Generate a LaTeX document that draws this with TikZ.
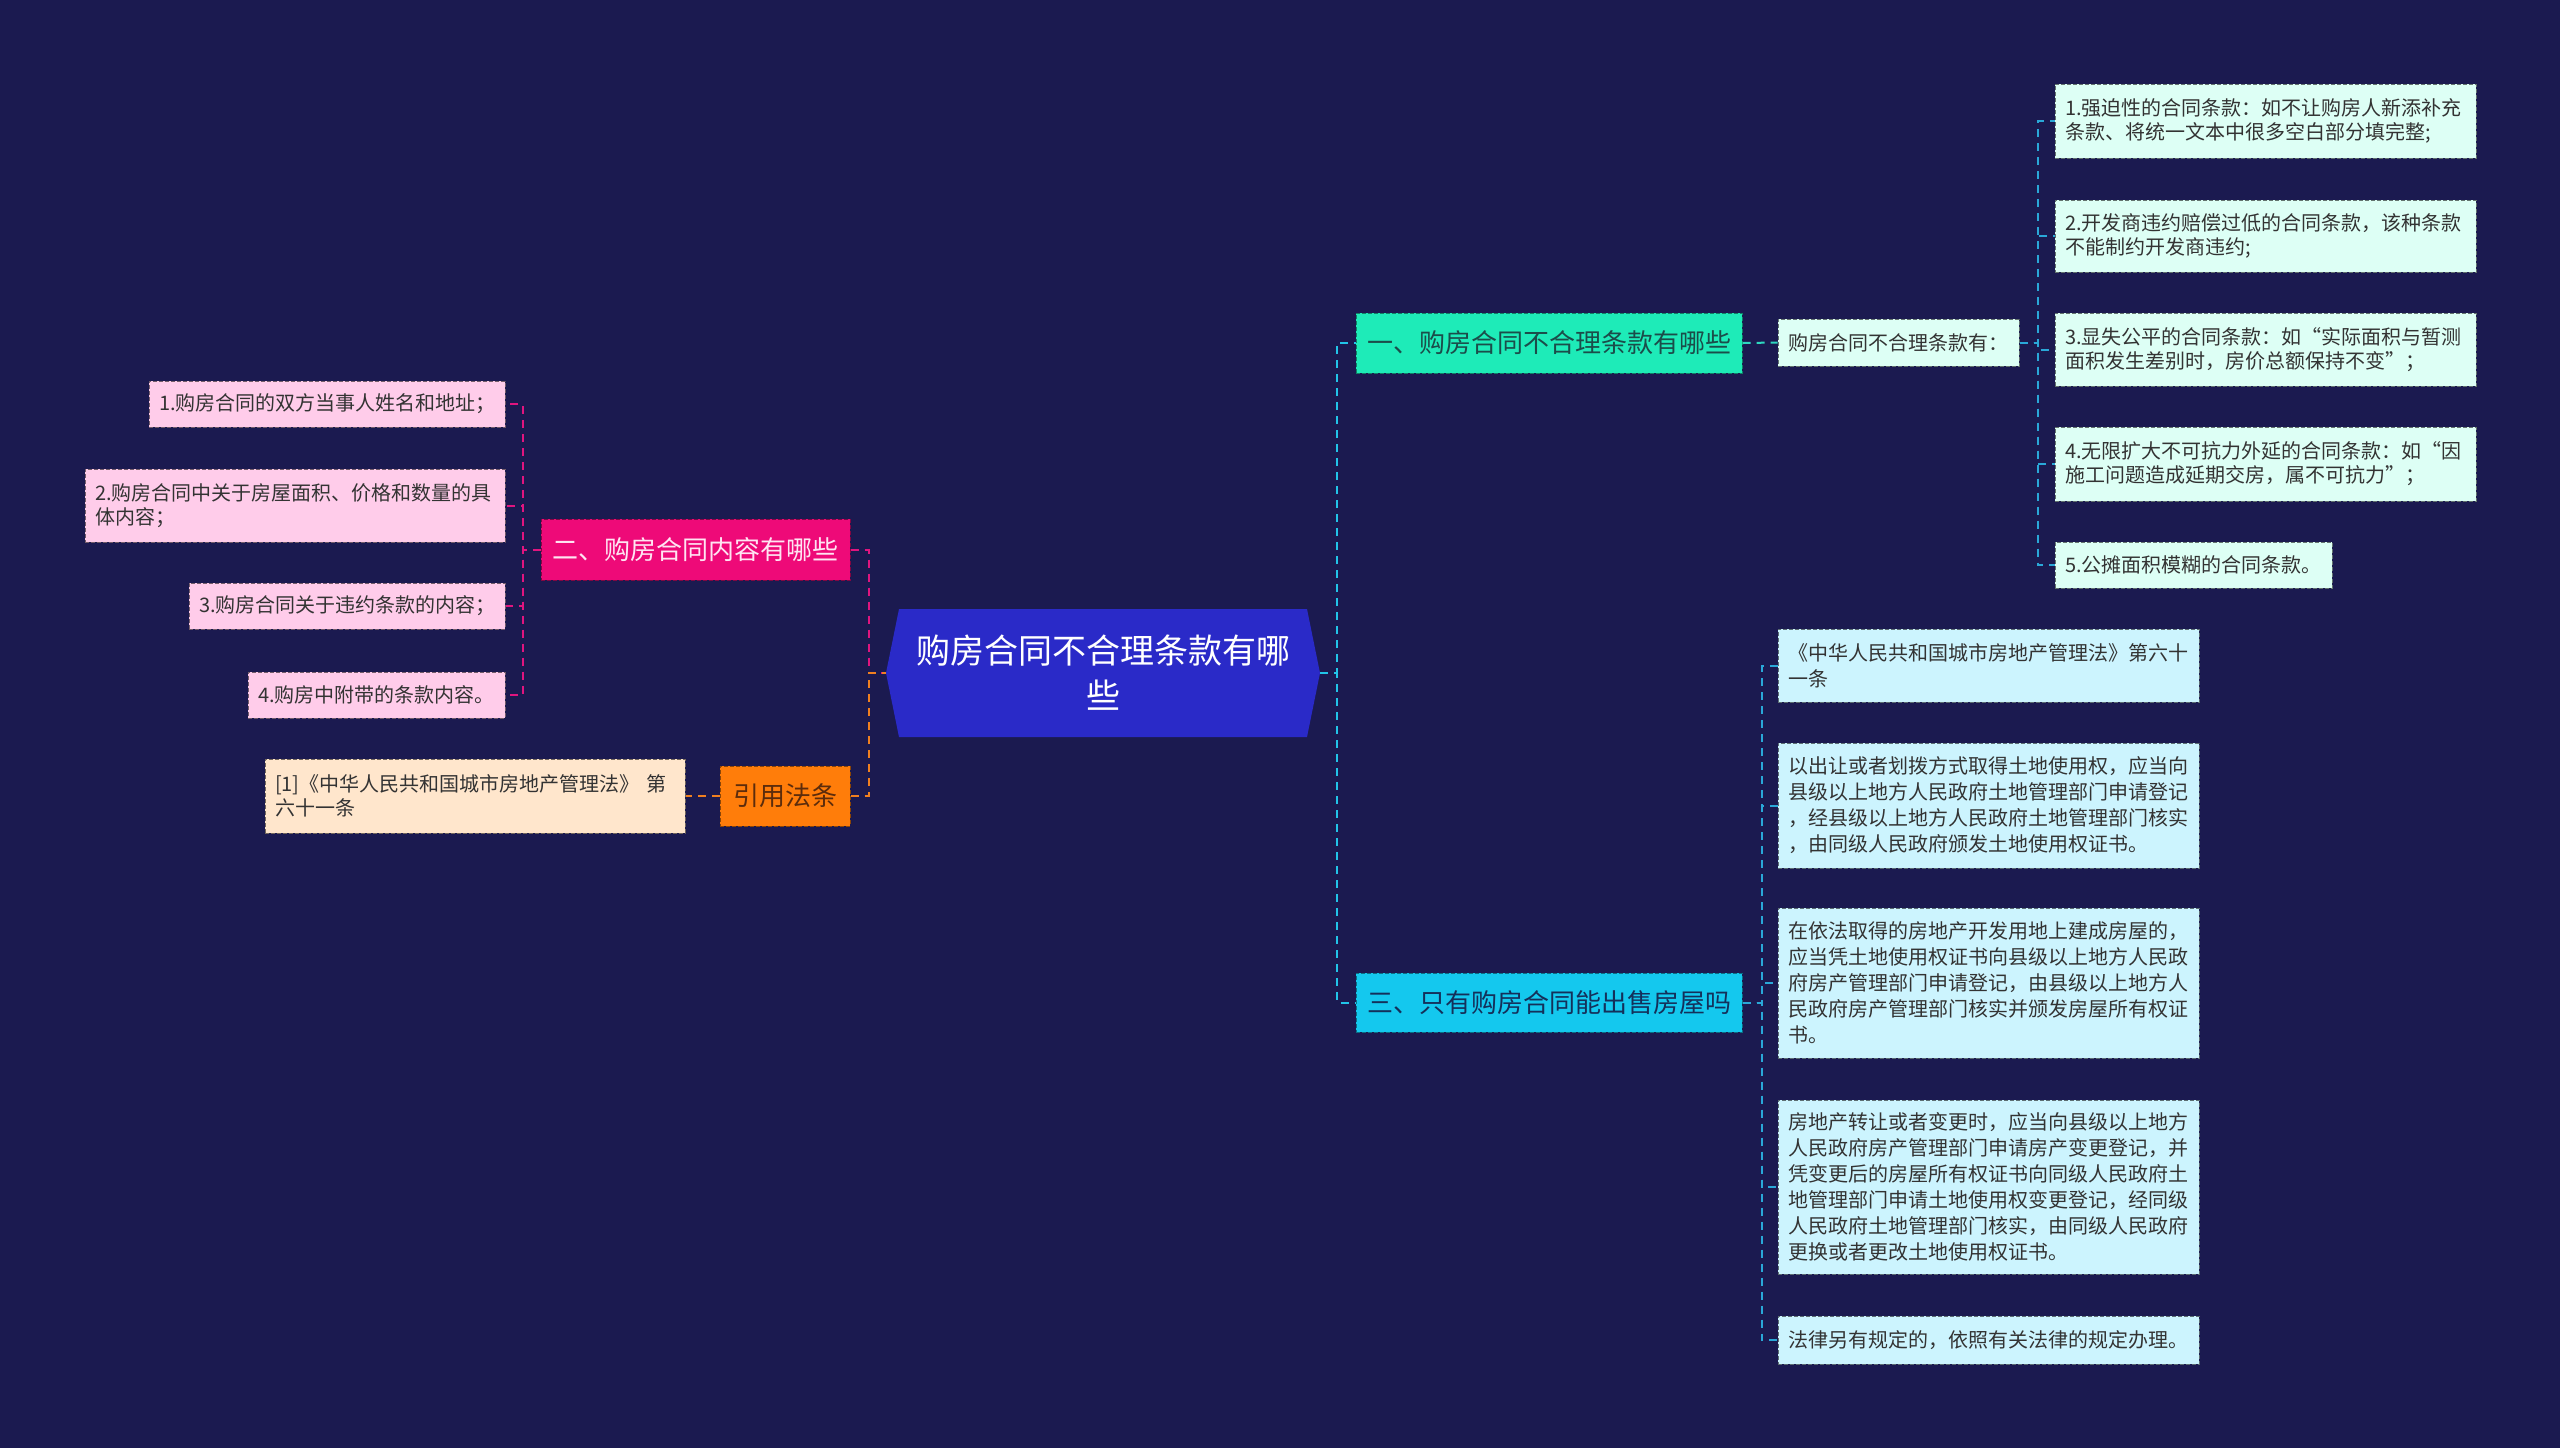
\documentclass[tikz,border=0pt]{standalone}
\usepackage{fontspec}
\setmainfont{Noto Sans CJK SC}
\usetikzlibrary{calc}
\definecolor{bgc}{HTML}{1B1A50}
\definecolor{cenfill}{HTML}{2A2AC8}
\definecolor{bonefill}{HTML}{1EEBB8}
\definecolor{bonetext}{HTML}{1B4D4A}
\definecolor{btwofill}{HTML}{EE0A78}
\definecolor{btwotext}{HTML}{FFE4F2}
\definecolor{bthreefill}{HTML}{14C8EE}
\definecolor{bthreetext}{HTML}{14305A}
\definecolor{bfourfill}{HTML}{FF7D0A}
\definecolor{bfourtext}{HTML}{5C2C0C}
\definecolor{pinkfill}{HTML}{FFCCEA}
\definecolor{peachfill}{HTML}{FFE6CC}
\definecolor{mintfill}{HTML}{DDFFF5}
\definecolor{cyanfill}{HTML}{CCF4FE}
\definecolor{txtdark}{HTML}{333333}
\definecolor{pinkline}{HTML}{E0157F}
\definecolor{orangeline}{HTML}{F08020}
\definecolor{tealline}{HTML}{2ED8C0}
\definecolor{cyanline}{HTML}{22C4E8}
\definecolor{blueline}{HTML}{2AA8D8}
\tikzset{
  conn/.style={line width=1pt, dash pattern=on 4pt off 3pt},
  pc/.style={conn, draw=pinkline},
  oc/.style={conn, draw=orangeline},
  tc/.style={conn, draw=tealline},
  cc/.style={conn, draw=cyanline},
  bc/.style={conn, draw=blueline},
  branchbox/.style={fill=#1, draw=#1!55!black, line width=0.5pt, dash pattern=on 2pt off 1pt,
    inner sep=0pt, font=\fontsize{13}{15}\selectfont},
  leafbox/.style={fill=#1, draw=#1!45!black, line width=0.5pt, dash pattern=on 2pt off 1pt,
    inner xsep=5pt, inner ysep=0pt, align=left, text=txtdark},
  fc/.style={font=\fontsize{10}{12}\selectfont},
  fd/.style={font=\fontsize{10}{13}\selectfont},
}
\begin{document}
\begin{tikzpicture}[x=0.5pt, y=-0.5pt]
\useasboundingbox (0,0) rectangle (2560,1448);
\fill[bgc] (0,0) rectangle (2560,1448);

% central
\fill[cenfill] (886,673) -- (899,609) -- (1307,609) -- (1320,673) -- (1307,737) -- (899,737) -- cycle;
\node[inner sep=0pt, minimum width=217pt, minimum height=64pt, align=center, text=white,
  font=\fontsize{17}{22.5}\selectfont] (c) at (1103,673) {购房合同不合理条款有哪\\些};

% branches
\node[branchbox=bonefill, text=bonetext, minimum width=193pt, minimum height=30pt] (b1) at (1549,343) {一、购房合同不合理条款有哪些};
\node[branchbox=btwofill, text=btwotext, minimum width=154.5pt, minimum height=30.5pt] (b2) at (695.5,549.5) {二、购房合同内容有哪些};
\node[branchbox=bthreefill, text=bthreetext, minimum width=193pt, minimum height=29.5pt] (b3) at (1549,1002.5) {三、只有购房合同能出售房屋吗};
\node[branchbox=bfourfill, text=bfourtext, minimum width=65pt, minimum height=30pt] (b4) at (785,796) {引用法条};

% left leaves
\node[leafbox=pinkfill, fc, text width=168pt, minimum height=23pt] (l1) at (327,404) {1.购房合同的双方当事人姓名和地址；};
\node[leafbox=pinkfill, fc, text width=200pt, minimum height=36.5pt] (l2) at (295,505.5) {2.购房合同中关于房屋面积、价格和数量的具\\体内容；};
\node[leafbox=pinkfill, fc, text width=148pt, minimum height=23pt] (l3) at (347,606) {3.购房合同关于违约条款的内容；};
\node[leafbox=pinkfill, fc, text width=118.5pt, minimum height=23pt] (l4) at (376.5,695) {4.购房中附带的条款内容。};
\node[leafbox=peachfill, fc, text width=200pt, minimum height=37pt] (r) at (475,796) {[1]《中华人民共和国城市房地产管理法》 第\\六十一条};

% middle node and right-top leaves
\node[leafbox=mintfill, fc, text width=110.5pt, minimum height=23.5pt] (m) at (1898.5,342.5) {购房合同不合理条款有：};
\node[leafbox=mintfill, fc, text width=200.5pt, minimum height=37pt] (c1) at (2265.5,121) {1.强迫性的合同条款：如不让购房人新添补充\\条款、将统一文本中很多空白部分填完整;};
\node[leafbox=mintfill, fc, text width=200.5pt, minimum height=36pt] (c2) at (2265.5,236) {2.开发商违约赔偿过低的合同条款，该种条款\\不能制约开发商违约;};
\node[leafbox=mintfill, fc, text width=200.5pt, minimum height=36.5pt] (c3) at (2265.5,349.5) {3.显失公平的合同条款：如“实际面积与暂测\\面积发生差别时，房价总额保持不变”；};
\node[leafbox=mintfill, fc, text width=200.5pt, minimum height=37pt] (c4) at (2265.5,464) {4.无限扩大不可抗力外延的合同条款：如“因\\施工问题造成延期交房，属不可抗力”；};
\node[leafbox=mintfill, fc, text width=128.5pt, minimum height=23pt] (c5) at (2193.5,565) {5.公摊面积模糊的合同条款。};

% right-bottom leaves
\node[leafbox=cyanfill, fd, text width=200.5pt, minimum height=36.5pt] (d1) at (1988.5,665.5) {《中华人民共和国城市房地产管理法》第六十\\一条};
\node[leafbox=cyanfill, fd, text width=200.5pt, minimum height=62.5pt] (d2) at (1988.5,805.5) {以出让或者划拨方式取得土地使用权，应当向\\县级以上地方人民政府土地管理部门申请登记\\，经县级以上地方人民政府土地管理部门核实\\，由同级人民政府颁发土地使用权证书。};
\node[leafbox=cyanfill, fd, text width=200.5pt, minimum height=75pt] (d3) at (1988.5,983) {在依法取得的房地产开发用地上建成房屋的，\\应当凭土地使用权证书向县级以上地方人民政\\府房产管理部门申请登记，由县级以上地方人\\民政府房产管理部门核实并颁发房屋所有权证\\书。};
\node[leafbox=cyanfill, fd, text width=200.5pt, minimum height=87pt] (d4) at (1988.5,1187) {房地产转让或者变更时，应当向县级以上地方\\人民政府房产管理部门申请房产变更登记，并\\凭变更后的房屋所有权证书向同级人民政府土\\地管理部门申请土地使用权变更登记，经同级\\人民政府土地管理部门核实，由同级人民政府\\更换或者更改土地使用权证书。};
\node[leafbox=cyanfill, fd, text width=200.5pt, minimum height=24pt] (d5) at (1988.5,1340) {法律另有规定的，依照有关法律的规定办理。};

% connectors
\draw[cc] (c.east) -- ++(17,0) |- (b1.west);
\draw[cc] (c.east) -- ++(17,0) |- (b3.west);
\draw[pc] (b2.east) -- ++(18,0) |- (c.west);
\draw[oc] (b4.east) -- ++(18,0) |- (c.west);
\foreach \n in {l1,l2,l3,l4} \draw[pc] (b2.west) -- ++(-18,0) |- (\n.east);
\draw[oc] (b4.west) -- (r.east);
\draw[tc] (b1.east) -- (m.west);
\foreach \n in {c1,c2,c3,c4,c5} \draw[bc] (m.east) -- ++(18,0) |- (\n.west);
\foreach \n in {d1,d2,d3,d4,d5} \draw[bc] (b3.east) -- ++(19,0) |- (\n.west);
\end{tikzpicture}
\end{document}
